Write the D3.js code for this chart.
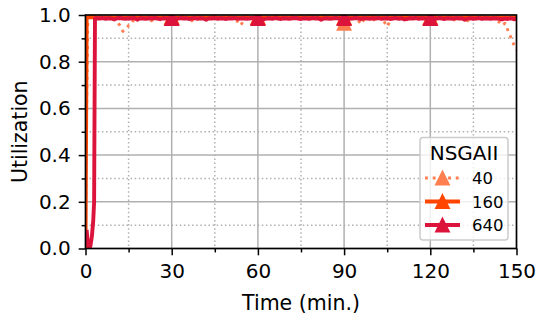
<!DOCTYPE html>
<html>
<head>
<meta charset="utf-8">
<script src="https://cdn.jsdelivr.net/npm/d3@7"></script>
<style>
    body { margin: 0; background: #fff; }
    text { font-family: "DejaVu Sans", sans-serif; fill: #000; }
</style>
</head>
<body>
<script>
//sample times in minutes (dense at the start, then every minute)
var time = [0, 0.4, 0.8, 1.2, 1.7, 2.2, 2.7, 3.0, 3.3,
    4, 5, 6, 7, 8, 9, 10, 11, 12, 13,
    14, 15, 16, 17, 18, 19, 20, 21, 22, 23,
    24, 25, 26, 27, 28, 29, 30, 31, 32, 33,
    34, 35, 36, 37, 38, 39, 40, 41, 42, 43,
    44, 45, 46, 47, 48, 49, 50, 51, 52, 53,
    54, 55, 56, 57, 58, 59, 60, 61, 62, 63,
    64, 65, 66, 67, 68, 69, 70, 71, 72, 73,
    74, 75, 76, 77, 78, 79, 80, 81, 82, 83,
    84, 85, 86, 87, 88, 89, 90, 91, 92, 93,
    94, 95, 96, 97, 98, 99, 100, 101, 102, 103,
    104, 105, 106, 107, 108, 109, 110, 111, 112, 113,
    114, 115, 116, 117, 118, 119, 120, 121, 122, 123,
    124, 125, 126, 127, 128, 129, 130, 131, 132, 133,
    134, 135, 136, 137, 138, 139, 140, 141, 142, 143,
    144, 145, 146, 147, 148, 149, 150];

//utilization, population 40
var util40 = [0.03, 0.6, 0.99, 0.995, 0.99, 0.995, 0.99, 0.995, 0.99,
    0.99, 0.995, 0.99, 0.985, 0.99, 0.995, 0.985, 0.97, 0.955, 0.93,
    0.94, 0.955, 0.96, 0.985, 0.99, 0.995, 0.99, 0.985, 0.99, 0.975,
    0.99, 0.995, 0.99, 0.985, 0.99, 0.995, 0.99, 0.985, 0.99, 0.995,
    0.99, 0.985, 0.99, 0.975, 0.99, 0.995, 0.99, 0.985, 0.99, 0.99,
    0.995, 0.98, 0.99, 0.985, 0.99, 0.995, 0.99, 0.985, 0.99, 0.97,
    0.955, 0.975, 0.99, 0.995, 0.99, 0.985, 0.99, 0.995, 0.99, 0.985,
    0.99, 0.99, 0.995, 0.985, 0.99, 0.975, 0.99, 0.995, 0.99, 0.985,
    0.99, 0.995, 0.99, 0.985, 0.98, 0.99, 0.995, 0.99, 0.985, 0.99,
    0.995, 0.99, 0.985, 0.99, 0.975, 0.97, 0.965, 0.975, 0.99, 0.985,
    0.99, 0.975, 0.96, 0.985, 0.99, 0.995, 0.975, 0.99, 0.985, 0.99,
    0.97, 0.95, 0.975, 0.99, 0.995, 0.99, 0.985, 0.99, 0.995, 0.99,
    0.985, 0.99, 0.995, 0.99, 0.985, 0.99, 0.99, 0.995, 0.985, 0.99,
    0.99, 0.995, 0.985, 0.99, 0.975, 0.99, 0.995, 0.99, 0.985, 0.975,
    0.99, 0.995, 0.99, 0.985, 0.99, 0.98, 0.99, 0.985, 0.99, 0.975,
    0.97, 0.955, 0.965, 0.935, 0.905, 0.875, 0.85];

//utilization, population 160
var util160 = [0.0, 0.99, 0.99, 0.992, 0.99, 0.991, 0.99, 0.992, 0.99,
    0.989, 0.99, 0.988, 0.991, 0.989, 0.99, 0.988, 0.989, 0.991, 0.99,
    0.988, 0.99, 0.989, 0.991, 0.988, 0.99, 0.989, 0.988, 0.99, 0.991,
    0.989, 0.988, 0.99, 0.989, 0.991, 0.988, 0.99, 0.989, 0.988, 0.99,
    0.991, 0.989, 0.988, 0.99, 0.989, 0.991, 0.988, 0.99, 0.989, 0.988,
    0.99, 0.991, 0.989, 0.988, 0.99, 0.989, 0.991, 0.988, 0.99, 0.989,
    0.988, 0.99, 0.991, 0.989, 0.988, 0.99, 0.989, 0.991, 0.988, 0.99,
    0.989, 0.988, 0.99, 0.991, 0.989, 0.988, 0.99, 0.989, 0.991, 0.988,
    0.99, 0.989, 0.988, 0.99, 0.991, 0.989, 0.988, 0.99, 0.989, 0.991,
    0.988, 0.99, 0.989, 0.988, 0.99, 0.991, 0.989, 0.988, 0.99, 0.989,
    0.991, 0.988, 0.99, 0.989, 0.988, 0.99, 0.991, 0.989, 0.988, 0.99,
    0.989, 0.991, 0.988, 0.99, 0.989, 0.988, 0.99, 0.991, 0.989, 0.988,
    0.99, 0.989, 0.991, 0.988, 0.99, 0.989, 0.988, 0.99, 0.991, 0.989,
    0.988, 0.99, 0.989, 0.991, 0.988, 0.99, 0.989, 0.988, 0.99, 0.991,
    0.989, 0.988, 0.99, 0.989, 0.991, 0.988, 0.99, 0.989, 0.988, 0.99,
    0.991, 0.989, 0.988, 0.99, 0.989, 0.991, 0.988];

//utilization, population 640
var util640 = [null, 0.08, 0.02, 0.0, 0.01, 0.05, 0.12, 0.2, 0.985,
    0.986, 0.985, 0.987, 0.984, 0.986, 0.985, 0.981, 0.986, 0.987, 0.985,
    0.984, 0.986, 0.985, 0.987, 0.98, 0.986, 0.985, 0.984, 0.986, 0.985,
    0.987, 0.985, 0.982, 0.986, 0.985, 0.984, 0.985, 0.986, 0.984, 0.987,
    0.985, 0.986, 0.983, 0.985, 0.987, 0.984, 0.986, 0.985, 0.98, 0.986,
    0.985, 0.987, 0.984, 0.986, 0.985, 0.983, 0.986, 0.985, 0.987, 0.984,
    0.985, 0.986, 0.984, 0.985, 0.987, 0.985, 0.985, 0.986, 0.981, 0.985,
    0.986, 0.984, 0.987, 0.985, 0.983, 0.986, 0.985, 0.984, 0.986, 0.987,
    0.985, 0.983, 0.986, 0.985, 0.984, 0.987, 0.985, 0.986, 0.98, 0.985,
    0.986, 0.984, 0.985, 0.987, 0.985, 0.983, 0.985, 0.986, 0.984, 0.985,
    0.987, 0.985, 0.983, 0.986, 0.985, 0.984, 0.986, 0.985, 0.987, 0.984,
    0.985, 0.986, 0.983, 0.985, 0.987, 0.984, 0.986, 0.981, 0.983, 0.986,
    0.985, 0.987, 0.984, 0.986, 0.985, 0.983, 0.985, 0.986, 0.984, 0.987,
    0.985, 0.983, 0.986, 0.985, 0.984, 0.987, 0.985, 0.986, 0.98, 0.985,
    0.986, 0.984, 0.985, 0.987, 0.983, 0.986, 0.985, 0.984, 0.986, 0.985,
    0.984, 0.981, 0.985, 0.983, 0.986, 0.982, 0.984];

var seriesNames = ["40", "160", "640"];
var legendTitle = "NSGAII";
var markerTimes = [30, 60, 90, 120];
var xMajor = [0, 30, 60, 90, 120, 150],
    xMinor = [15, 45, 75, 105, 135];
var yMajor = [0, 0.2, 0.4, 0.6, 0.8, 1.0],
    yMinor = [0.1, 0.3, 0.5, 0.7, 0.9];

function drawChart(){
    //frame dimension
    var width = 539,
        height = 320;
    var left = 85.5, right = 516.5, top = 15, bottom = 248.5;

    var svg = d3.select("body")
        .append("svg")
        .attr("width", width)
        .attr("height", height);

    var x = d3.scaleLinear().domain([0, 150]).range([left, right]);
    var y = d3.scaleLinear().domain([0, 1]).range([bottom, top]);

    svg.append("clipPath")
        .attr("id", "plotClip")
        .append("rect")
        .attr("x", left).attr("y", top)
        .attr("width", right - left).attr("height", bottom - top);

    //minor grid (dotted)
    var grid = svg.append("g").attr("class", "grid");
    grid.selectAll(".xminor").data(xMinor).enter().append("line")
        .attr("x1", d => x(d)).attr("x2", d => x(d))
        .attr("y1", top).attr("y2", bottom)
        .attr("stroke", "#b0b0b0").attr("stroke-width", 1.5)
        .attr("stroke-dasharray", "1.5,2.6");
    grid.selectAll(".yminor").data(yMinor).enter().append("line")
        .attr("x1", left).attr("x2", right)
        .attr("y1", d => y(d)).attr("y2", d => y(d))
        .attr("stroke", "#b0b0b0").attr("stroke-width", 1.5)
        .attr("stroke-dasharray", "1.5,2.6");

    //major grid
    grid.selectAll(".xmajor").data(xMajor).enter().append("line")
        .attr("x1", d => x(d)).attr("x2", d => x(d))
        .attr("y1", top).attr("y2", bottom)
        .attr("stroke", "#b0b0b0").attr("stroke-width", 1.5);
    grid.selectAll(".ymajor").data(yMajor).enter().append("line")
        .attr("x1", left).attr("x2", right)
        .attr("y1", d => y(d)).attr("y2", d => y(d))
        .attr("stroke", "#b0b0b0").attr("stroke-width", 1.5);

    //series styling
    var series = [
        {name: seriesNames[0], values: util40, color: "#ff7f50", width: 2.9, dash: "2.9,4.8"},
        {name: seriesNames[1], values: util160, color: "#ff4500", width: 3.9, dash: null},
        {name: seriesNames[2], values: util640, color: "#dc143c", width: 3.9, dash: null}
    ];

    var line = d3.line()
        .defined(d => d[1] != null)
        .x(d => x(d[0]))
        .y(d => y(d[1]));

    function triangle(s){
        return "M0," + (-s / 2) + "L" + (s / 2) + "," + (s / 2) + "L" + (-s / 2) + "," + (s / 2) + "Z";
    }

    var plot = svg.append("g").attr("clip-path", "url(#plotClip)");

    series.forEach(function(s){
        var pts = time.map((t, i) => [t, s.values[i]]);
        plot.append("path")
            .datum(pts)
            .attr("d", line)
            .attr("fill", "none")
            .attr("stroke", s.color)
            .attr("stroke-width", s.width)
            .attr("stroke-linejoin", "round")
            .attr("stroke-dasharray", s.dash);

        var marks = markerTimes.map(t => [t, s.values[time.indexOf(t)]]);
        plot.selectAll(null)
            .data(marks)
            .enter()
            .append("path")
            .attr("d", triangle(13.5))
            .attr("transform", d => "translate(" + x(d[0]) + "," + y(d[1]) + ")")
            .attr("fill", s.color)
            .attr("stroke", s.color)
            .attr("stroke-width", 1.5)
            .attr("stroke-linejoin", "miter");
    });

    //axes
    svg.append("g")
        .attr("transform", "translate(0," + bottom + ")")
        .call(d3.axisBottom(x).tickValues(xMajor).tickSize(6.8).tickPadding(8).tickFormat(d3.format("d")));
    svg.append("g")
        .attr("transform", "translate(0," + bottom + ")")
        .call(d3.axisBottom(x).tickValues(xMinor).tickSize(3.9).tickFormat(""));
    svg.append("g")
        .attr("transform", "translate(" + left + ",0)")
        .call(d3.axisLeft(y).tickValues(yMajor).tickSize(6.8).tickPadding(8).tickFormat(d3.format(".1f")));
    svg.append("g")
        .attr("transform", "translate(" + left + ",0)")
        .call(d3.axisLeft(y).tickValues(yMinor).tickSize(3.9).tickFormat(""));

    svg.selectAll(".domain").remove();
    svg.selectAll(".tick line").attr("stroke", "#000").attr("stroke-width", 1.5);
    svg.selectAll(".tick text")
        .style("font-family", "DejaVu Sans")
        .style("font-size", "20px")
        .attr("fill", "#000");

    //spines
    svg.append("rect")
        .attr("x", left).attr("y", top)
        .attr("width", right - left).attr("height", bottom - top)
        .attr("fill", "none")
        .attr("stroke", "#000")
        .attr("stroke-width", 1.6);

    //axis labels
    svg.append("text")
        .attr("x", (left + right) / 2)
        .attr("y", 310)
        .attr("text-anchor", "middle")
        .style("font-size", "20.5px")
        .text("Time (min.)");
    svg.append("text")
        .attr("transform", "translate(27," + ((top + bottom) / 2) + ") rotate(-90)")
        .attr("text-anchor", "middle")
        .style("font-size", "20.5px")
        .text("Utilization");

    //legend
    var legend = svg.append("g");
    legend.append("rect")
        .attr("x", 420).attr("y", 137.5)
        .attr("width", 88).attr("height", 102.5)
        .attr("rx", 3)
        .attr("fill", "#fff").attr("fill-opacity", 0.8)
        .attr("stroke", "#cccccc").attr("stroke-width", 1.5);
    legend.append("text")
        .attr("x", 464).attr("y", 160)
        .attr("text-anchor", "middle")
        .style("font-size", "20px")
        .text(legendTitle);

    var rows = legend.selectAll(".row")
        .data(series)
        .enter()
        .append("g")
        .attr("transform", (d, i) => "translate(0," + (178 + i * 23.5) + ")");
    rows.append("line")
        .attr("x1", 425).attr("x2", 460)
        .attr("y1", 0).attr("y2", 0)
        .attr("stroke", d => d.color)
        .attr("stroke-width", d => d.width)
        .attr("stroke-dasharray", d => d.dash);
    rows.append("path")
        .attr("d", triangle(13.5))
        .attr("transform", "translate(442.5,0)")
        .attr("fill", d => d.color)
        .attr("stroke", d => d.color)
        .attr("stroke-width", 1.5);
    rows.append("text")
        .attr("x", 472).attr("y", 6)
        .style("font-size", "16.5px")
        .text(d => d.name);
}

window.onload = drawChart();
</script>
</body>
</html>
